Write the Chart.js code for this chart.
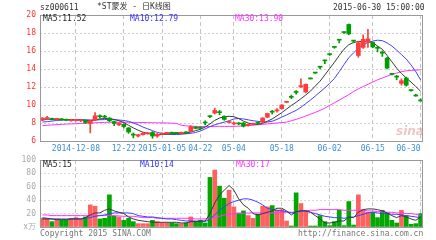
<!DOCTYPE html>
<html lang="zh">
<head>
    <meta charset="UTF-8">
    <title>*ST蒙发 - 日K线图</title>
    <script src="https://cdn.jsdelivr.net/npm/chart.js"></script>
    <style>
        body { margin: 0; background: #fff; }
        .wrap {
            position: relative;
            width: 436px;
            height: 240px;
            font-family: "DejaVu Sans Mono", "Noto Sans CJK SC", monospace;
            font-size: 8px;
            color: #333;
        }
        canvas { position: absolute; left: 0; }
        #kline { top: 0; }
        #vol { top: 153px; }
        .t { position: absolute; white-space: nowrap; line-height: 1; }
        .logo { font-family: "DejaVu Sans", sans-serif; font-style: italic; font-weight: bold; font-size: 12px; color: rgba(215, 130, 130, 0.45); }
    </style>
</head>
<body>
<div class="wrap">
    <canvas id="kline" width="436" height="155"></canvas>
    <canvas id="vol" width="436" height="87"></canvas>

    <div class="t" style="left:40px; top:4px;">sz000611</div>
    <div class="t" style="left:97px; top:3px;">*ST蒙发 - 日K线图</div>
    <div class="t" style="left:333px; top:4px;">2015-06-30 15:00:00</div>

    <div class="t" style="left:43px; top:15px; color:#222;">MA5:11.52</div>
    <div class="t" style="left:130px; top:15px; color:#3333ff;">MA10:12.79</div>
    <div class="t" style="left:235px; top:15px; color:#ff33ff;">MA30:13.90</div>

    <div class="t" style="left:43px; top:161px; color:#222;">MA5:15</div>
    <div class="t" style="left:140px; top:161px; color:#3333ff;">MA10:14</div>
    <div class="t" style="left:236px; top:161px; color:#ff33ff;">MA30:17</div>

    <div class="t logo" style="left:396px; top:125px;">sina</div>

    <div class="t" style="left:40px; top:230px; color:#777;">Copyright 2015 SINA.COM</div>
    <div class="t" style="left:298px; top:230px; color:#777;">http://finance.sina.com.cn</div>
</div>

<script>
    // trading days shown on the chart
    const dates = [
        '2014-11-27', '2014-11-28', '2014-12-01', '2014-12-02', '2014-12-03', '2014-12-04', '2014-12-05', '2014-12-08', '2014-12-09', '2014-12-10',
        '2014-12-11', '2014-12-12', '2014-12-15', '2014-12-16', '2014-12-17', '2014-12-18', '2014-12-19', '2014-12-22', '2014-12-23', '2014-12-24',
        '2014-12-25', '2014-12-26', '2014-12-29', '2014-12-30', '2014-12-31', '2015-01-05', '2015-01-06', '2015-01-07', '2015-01-08', '2015-01-09',
        '2015-01-12', '2015-01-13', '2015-01-14', '2015-04-22', '2015-04-23', '2015-04-24', '2015-04-27', '2015-04-28', '2015-04-29', '2015-04-30',
        '2015-05-04', '2015-05-05', '2015-05-06', '2015-05-07', '2015-05-08', '2015-05-11', '2015-05-12', '2015-05-13', '2015-05-14', '2015-05-15',
        '2015-05-18', '2015-05-19', '2015-05-20', '2015-05-21', '2015-05-22', '2015-05-25', '2015-05-26', '2015-05-27', '2015-05-28', '2015-05-29',
        '2015-06-02', '2015-06-03', '2015-06-04', '2015-06-05', '2015-06-08', '2015-06-09', '2015-06-10', '2015-06-11', '2015-06-12', '2015-06-15',
        '2015-06-16', '2015-06-17', '2015-06-18', '2015-06-19', '2015-06-23', '2015-06-24', '2015-06-25', '2015-06-26', '2015-06-29', '2015-06-30'
    ];

    // date ticks on the x axis
    const tickIndex = [7, 17, 25, 33, 40, 50, 60, 69, 79];
    const tickText = ['2014-12-08', '12-22', '2015-01-05', '04-22', '05-04', '05-18', '06-02', '06-15', '06-30'];

    // daily prices (yuan)
    const opens = [
        8.30, 8.50, 8.50, 8.40, 8.45, 8.40, 8.25, 8.30, 8.25, 8.30,
        7.95, 8.30, 8.80, 8.75, 8.55, 8.15, 7.80, 7.85, 7.45, 6.75,
        6.55, 6.70, 6.80, 6.95, 6.55, 6.75, 6.85, 6.95, 6.90, 6.85,
        7.00, 7.05, 7.55, 7.50, 8.10, 8.75, 9.10, 9.25, 8.75, 8.05,
        7.90, 8.00, 8.00, 7.70, 7.85, 8.00, 8.10, 8.65, 9.25, 9.35,
        9.60, 10.30, 10.90, 11.45, 12.00, 11.45, 12.92, 13.57, 14.25, 14.95,
        15.65, 16.42, 17.25, 18.08, 18.95, 17.15, 15.50, 16.40, 17.00, 16.95,
        16.40, 15.85, 15.20, 13.45, 13.15, 12.40, 13.00, 11.62, 11.02, 10.48
    ];
    const highs = [
        8.60, 8.75, 8.55, 8.50, 8.50, 8.45, 8.40, 8.40, 8.35, 8.35,
        8.30, 9.15, 8.90, 8.85, 8.60, 8.20, 8.05, 7.90, 7.50, 6.90,
        6.75, 6.95, 6.95, 7.05, 6.85, 6.90, 6.95, 7.00, 6.95, 7.00,
        7.05, 7.70, 7.60, 7.60, 8.25, 8.80, 9.65, 9.40, 8.80, 8.20,
        8.10, 8.05, 8.05, 7.90, 8.00, 8.10, 8.60, 9.10, 9.40, 9.60,
        10.05, 10.40, 11.10, 11.60, 12.90, 12.35, 12.95, 13.60, 14.30, 15.00,
        15.65, 16.45, 17.25, 18.10, 19.00, 17.20, 17.10, 17.80, 18.40, 17.00,
        16.50, 16.00, 15.30, 13.50, 13.30, 12.90, 13.10, 11.65, 11.20, 10.70
    ];
    const lows = [
        8.25, 8.40, 8.35, 8.35, 8.30, 8.25, 8.20, 8.20, 8.15, 7.95,
        6.90, 8.25, 8.55, 8.50, 8.15, 7.70, 7.70, 7.45, 6.85, 6.35,
        6.45, 6.65, 6.75, 6.30, 6.40, 6.70, 6.80, 6.80, 6.80, 6.80,
        6.85, 7.00, 7.35, 7.30, 7.80, 8.60, 9.00, 8.90, 8.30, 8.00,
        7.80, 7.80, 7.55, 7.65, 7.80, 7.85, 8.05, 8.60, 9.00, 9.20,
        9.55, 10.25, 10.70, 11.20, 11.95, 11.35, 12.88, 13.50, 14.00, 14.60,
        15.50, 16.30, 16.90, 17.95, 17.80, 16.90, 15.30, 16.30, 16.40, 16.35,
        15.90, 15.40, 14.00, 13.35, 12.80, 12.20, 12.10, 11.55, 10.97, 10.43
    ];
    const closes = [
        8.55, 8.55, 8.40, 8.45, 8.35, 8.30, 8.35, 8.35, 8.30, 8.05,
        8.25, 8.80, 8.70, 8.65, 8.25, 7.95, 7.95, 7.60, 7.00, 6.65,
        6.70, 6.85, 6.90, 6.55, 6.75, 6.85, 6.90, 6.85, 6.85, 6.95,
        6.90, 7.60, 7.40, 7.40, 8.00, 8.70, 9.40, 9.15, 8.40, 8.10,
        8.00, 7.90, 7.65, 7.85, 7.95, 7.95, 8.55, 9.05, 9.20, 9.45,
        10.00, 10.35, 10.85, 11.40, 12.15, 12.30, 12.90, 13.55, 14.20, 14.90,
        15.60, 16.40, 17.20, 18.05, 17.90, 17.10, 16.90, 17.30, 17.35, 16.45,
        16.30, 15.75, 14.10, 13.40, 13.10, 12.70, 12.20, 11.60, 11.00, 10.45
    ];

    // price moving averages
    const ma5 = [
        8.40, 8.42, 8.42, 8.40, 8.40, 8.38, 8.35, 8.33, 8.32, 8.28,
        8.25, 8.35, 8.45, 8.50, 8.48, 8.40, 8.25, 8.05, 7.75, 7.45,
        7.20, 6.98, 6.85, 6.75, 6.72, 6.72, 6.75, 6.80, 6.82, 6.85,
        6.88, 7.00, 7.15, 7.30, 7.55, 7.90, 8.30, 8.55, 8.70, 8.75,
        8.70, 8.50, 8.20, 8.00, 7.88, 7.85, 7.95, 8.20, 8.45, 8.80,
        9.15, 9.55, 9.95, 10.30, 10.70, 11.10, 11.55, 12.10, 12.65, 13.35,
        14.05, 14.75, 15.50, 16.20, 16.70, 16.95, 17.05, 17.05, 17.05, 16.95,
        16.55, 16.20, 15.50, 14.80, 14.10, 13.50, 13.00, 12.55, 12.05, 11.52
    ];
    const ma10 = [
        8.10, 8.15, 8.22, 8.28, 8.32, 8.35, 8.38, 8.38, 8.38, 8.36,
        8.34, 8.34, 8.36, 8.38, 8.38, 8.36, 8.33, 8.28, 8.18, 8.00,
        7.80, 7.55, 7.35, 7.15, 6.95, 6.85, 6.78, 6.72, 6.72, 6.75,
        6.80, 6.85, 6.95, 7.10, 7.35, 7.60, 7.80, 7.95, 8.10, 8.25,
        8.45, 8.50, 8.45, 8.35, 8.25, 8.18, 8.12, 8.10, 8.20, 8.40,
        8.65, 8.90, 9.15, 9.40, 9.75, 10.15, 10.55, 11.00, 11.45, 11.90,
        12.40, 12.95, 13.70, 14.50, 15.25, 15.80, 16.30, 16.70, 16.95, 17.10,
        17.20, 17.15, 16.90, 16.55, 16.10, 15.60, 15.10, 14.45, 13.70, 12.79
    ];
    const ma30 = [
        7.70, 7.75, 7.78, 7.82, 7.85, 7.88, 7.90, 7.92, 7.95, 7.97,
        8.00, 8.02, 8.05, 8.07, 8.08, 8.08, 8.08, 8.08, 8.08, 8.07,
        8.06, 8.05, 8.04, 8.03, 8.02, 8.01, 8.00, 7.98, 7.96, 7.75,
        7.68, 7.65, 7.62, 7.60, 7.60, 7.60, 7.62, 7.63, 7.62, 7.62,
        7.62, 7.65, 7.68, 7.72, 7.76, 7.80, 7.85, 7.90, 7.95, 8.00,
        8.05, 8.10, 8.25, 8.40, 8.58, 8.78, 8.98, 9.18, 9.40, 9.65,
        9.95, 10.25, 10.55, 10.85, 11.15, 11.50, 11.80, 12.05, 12.30, 12.55,
        12.80, 13.00, 13.20, 13.40, 13.55, 13.70, 13.80, 13.85, 13.88, 13.90
    ];

    // volume (x 10 000 shares)
    const volumes = [
        13, 13, 8, 12, 10, 10, 13, 14, 12, 15,
        33, 31, 12, 13, 48, 16, 15, 10, 13, 8,
        5, 5, 5, 10, 8, 6, 6, 6, 5, 5,
        6, 15, 8, 10, 6, 74, 85, 61, 43, 55,
        30, 21, 24, 17, 13, 19, 31, 30, 32, 25,
        26, 9, 1, 51, 35, 25, 1, 1, 17, 8,
        2, 8, 25, 2, 38, 3, 48, 26, 22, 22,
        14, 25, 21, 10, 6, 25, 17, 4, 5, 20
    ];
    const volMa5 = [
        12, 12, 12, 11, 11, 11, 12, 12, 12, 14,
        18, 21, 21, 25, 27, 24, 22, 20, 15, 12,
        10, 9, 8, 7, 7, 7, 7, 7, 7, 6,
        6, 8, 8, 9, 9, 20, 36, 48, 55, 62,
        55, 42, 33, 28, 20, 18, 20, 22, 24, 28,
        28, 24, 18, 23, 24, 24, 22, 17, 12, 6,
        6, 7, 9, 9, 15, 14, 22, 26, 27, 27,
        26, 24, 21, 17, 14, 17, 15, 12, 10, 15
    ];
    const volMa10 = [
        14, 13, 12, 12, 12, 12, 12, 12, 12, 13,
        14, 16, 17, 18, 20, 21, 21, 21, 21, 20,
        17, 16, 15, 15, 14, 13, 12, 12, 11, 10,
        9, 9, 9, 8, 8, 12, 18, 25, 30, 35,
        38, 40, 42, 42, 40, 37, 33, 28, 26, 25,
        24, 23, 21, 22, 24, 24, 22, 20, 18, 16,
        15, 14, 14, 13, 14, 15, 17, 19, 21, 22,
        21, 20, 20, 19, 19, 18, 17, 16, 15, 14
    ];
    const volMa30 = [
        18, 18, 17, 17, 17, 17, 17, 17, 17, 17,
        17, 17, 17, 17, 17, 17, 16.5, 16, 16, 16,
        15, 14, 14, 14, 13, 13, 13, 13, 13, 13,
        13, 13, 12, 12, 12, 13, 14, 16, 18, 19,
        20, 20, 20, 21, 21, 21, 21, 21, 21, 21,
        22, 22, 22, 22, 23, 24, 25, 25, 26, 26,
        26, 26, 26, 25, 25, 25, 25, 25, 24, 24,
        23, 23, 22, 22, 21, 21, 20, 20, 19, 17
    ];

    Chart.defaults.font.family = '"DejaVu Sans Mono", monospace';
    Chart.defaults.font.size = 8;
    Chart.defaults.animation = false;
    Chart.defaults.plugins.legend.display = false;
    Chart.defaults.plugins.tooltip.enabled = false;

    const UP = '#ff3c3c', DOWN = '#009c00';
    const candleColors = closes.map((c, i) => c >= opens[i] ? UP : DOWN);
    const volColors = closes.map((c, i) => c >= opens[i] ? '#ff6060' : '#00a800');

    // ramka wokol obszaru wykresu
    const frame = {
        id: 'frame',
        afterDraw(chart) {
            const a = chart.chartArea, c = chart.ctx;
            c.save();
            c.strokeStyle = '#999';
            c.lineWidth = 1;
            c.strokeRect(Math.round(a.left) + 0.5, Math.round(a.top) + 0.5,
                Math.round(a.right - a.left) - 1, Math.round(a.bottom - a.top));
            c.restore();
        }
    };

    function xAxis(showLabels) {
        return {
            type: 'category',
            offset: true,
            grid: {
                offset: false,
                drawTicks: false,
                color: ctx => tickIndex.includes(ctx.index) ? '#c4c4c4' : 'rgba(0,0,0,0)'
            },
            border: { display: false, dash: [4, 3] },
            ticks: {
                display: showLabels,
                autoSkip: false,
                maxRotation: 0,
                minRotation: 0,
                padding: 3,
                color: '#3d8fd8',
                callback: (v, i) => {
                    const k = tickIndex.indexOf(i);
                    if (k < 0) return '';
                    // ostatnia etykieta przesunieta w lewo, jak w oryginale
                    return k === tickIndex.length - 1 ? tickText[k] + '\u00a0'.repeat(5) : tickText[k];
                }
            },
            afterFit: s => { s.height = showLabels ? 14 : 0; s.paddingLeft = 0; s.paddingRight = 0; }
        };
    }

    function maLine(data, color) {
        return { type: 'line', data: data, borderColor: color, borderWidth: 1, pointRadius: 0, tension: 0, order: 1 };
    }

    // wykres K-line
    new Chart(document.getElementById('kline'), {
        type: 'bar',
        data: {
            labels: dates,
            datasets: [
                {
                    data: lows.map((l, i) => [l, highs[i]]),
                    backgroundColor: candleColors,
                    barThickness: 1,
                    minBarLength: 1,
                    grouped: false,
                    order: 0
                },
                {
                    data: opens.map((o, i) => [o, closes[i]]),
                    backgroundColor: candleColors,
                    barThickness: 4,
                    minBarLength: 1,
                    grouped: false,
                    order: 0
                },
                maLine(ma5, '#3a3a3a'),
                maLine(ma10, '#4040ff'),
                maLine(ma30, '#ff33ff')
            ]
        },
        options: {
            responsive: false,
            layout: { padding: { top: 15, right: 13, left: 0, bottom: 0 } },
            scales: {
                x: xAxis(true),
                y: {
                    min: 6,
                    max: 20,
                    ticks: { stepSize: 2, color: '#ff3333', padding: 4 },
                    grid: { drawTicks: false, color: '#d0d0d0' },
                    border: { display: false, dash: [2, 2] },
                    afterFit: s => { s.width = 40; s.paddingTop = 0; s.paddingBottom = 0; }
                }
            }
        },
        plugins: [frame]
    });

    // wykres wolumenu
    new Chart(document.getElementById('vol'), {
        type: 'bar',
        data: {
            labels: dates,
            datasets: [
                {
                    data: volumes,
                    backgroundColor: volColors,
                    barThickness: 4,
                    minBarLength: 1,
                    order: 2
                },
                maLine(volMa5, '#3a3a3a'),
                maLine(volMa10, '#4040ff'),
                maLine(volMa30, '#ff33ff')
            ]
        },
        options: {
            responsive: false,
            layout: { padding: { top: 7, right: 13, left: 0, bottom: 13 } },
            scales: {
                x: xAxis(false),
                y: {
                    min: 0,
                    max: 100,
                    ticks: {
                        stepSize: 20,
                        color: '#aaaaaa',
                        padding: 4,
                        callback: v => v === 0 ? 'x万' : v
                    },
                    grid: { drawTicks: false, color: '#d8d8d8' },
                    border: { display: false, dash: [2, 2] },
                    afterFit: s => { s.width = 40; s.paddingTop = 0; s.paddingBottom = 0; }
                }
            }
        },
        plugins: [frame]
    });
</script>
</body>
</html>
